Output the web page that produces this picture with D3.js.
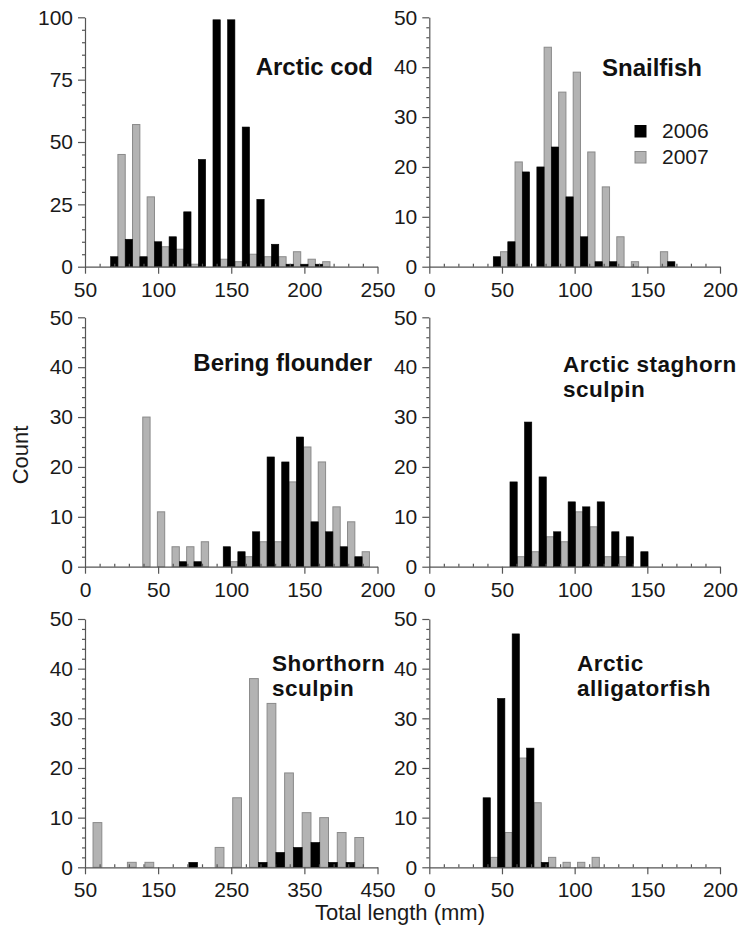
<!DOCTYPE html>
<html>
<head>
<meta charset="utf-8">
<script src="https://cdn.jsdelivr.net/npm/d3@7"></script>
<style>
  html, body { margin: 0; padding: 0; background: #fff; }
  svg { display: block; font-family: "Liberation Sans", Arial, Helvetica, sans-serif; }
</style>
</head>
<body>
<svg id="chart" width="752" height="938"></svg>
<script>
// ---------------- DATA ----------------
const years = ["2006", "2007"];

// Arctic cod (bin pair boundary, mm)
const codBins = [72.5, 82.5, 92.5, 102.5, 112.5, 122.5, 132.5, 142.5, 152.5, 162.5, 172.5, 182.5, 192.5, 202.5, 212.5];
const cod2006 = [4, 11, 4, 10, 12, 22, 43, 99, 99, 56, 27, 9, 1, 1, 1];
const cod2007 = [45, 57, 28, 8, 7, 1, 0, 3, 2, 5, 4, 4, 6, 3, 2];

// Snailfish
const snailBins = [49, 59, 69, 79, 89, 99, 109, 119, 129, 139, 149, 159, 169];
const snail2006 = [2, 5, 19, 20, 24, 14, 6, 1, 1, 0, 0, 0, 1];
const snail2007 = [3, 21, 0, 44, 35, 39, 23, 16, 6, 1, 0, 3, 0];

// Bering flounder
const beringBins = [39.5, 49.5, 59.5, 69.5, 79.5, 89.5, 99.5, 109.5, 119.5, 129.5, 139.5, 149.5, 159.5, 169.5, 179.5, 189.5];
const bering2006 = [0, 0, 0, 1, 1, 0, 4, 3, 7, 22, 21, 26, 9, 7, 4, 2];
const bering2007 = [30, 11, 4, 4, 5, 0, 1, 2, 5, 5, 17, 24, 21, 12, 9, 3];

// Arctic staghorn sculpin
const staghornBins = [60.5, 70.5, 80.5, 90.5, 100.5, 110.5, 120.5, 130.5, 140.5, 150.5];
const staghorn2006 = [17, 29, 18, 7, 13, 12, 13, 7, 6, 3];
const staghorn2007 = [2, 3, 6, 5, 11, 8, 2, 2, 0, 0];

// Shorthorn sculpin
const shorthornBins = [61, 84, 108, 132, 156, 180, 204, 228, 252, 275, 299, 323, 347, 371, 395, 419];
const shorthorn2006 = [0, 0, 0, 0, 0, 0, 1, 0, 0, 0, 1, 3, 4, 5, 1, 1];
const shorthorn2007 = [9, 0, 1, 1, 0, 0, 0, 4, 14, 38, 33, 19, 11, 10, 7, 6];

// Arctic alligatorfish
const alligatorBins = [42, 52, 62, 72, 82, 92, 102, 112];
const alligator2006 = [14, 34, 47, 24, 1, 0, 0, 0];
const alligator2007 = [2, 7, 22, 13, 2, 1, 1, 2];

// Tick labels
const xTicks50to250 = [50, 100, 150, 200, 250];
const xTicks0to200 = [0, 50, 100, 150, 200];
const xTicks50to450 = [50, 150, 250, 350, 450];
const yTicks100 = [0, 25, 50, 75, 100];
const yTicks50 = [0, 10, 20, 30, 40, 50];

const titles = [["Arctic cod"], ["Snailfish"], ["Bering flounder"], ["Arctic staghorn", "sculpin"], ["Shorthorn", "sculpin"], ["Arctic", "alligatorfish"]];
const xAxisTitle = "Total length (mm)";
const yAxisTitle = "Count";

// ---------------- LAYOUT ----------------
const svg = d3.select("#chart");
const cols = [{ x0: 85, x1: 377.5 }, { x0: 429.3, x1: 720 }];
const rows = [{ top: 17.3, bottom: 266.7 }, { top: 317.3, bottom: 566.7 }, { top: 619, bottom: 867.3 }];

const panels = [
  { bins: codBins, a: cod2006, b: cod2007, xd: [50, 250], xt: xTicks50to250, xm: 10, yMax: 100, yt: yTicks100, ym: 5, w: 5,
    col: 0, row: 0, title: titles[0], tAnchor: "end", tx: 373, ty: 75 },
  { bins: snailBins, a: snail2006, b: snail2007, xd: [0, 200], xt: xTicks0to200, xm: 10, yMax: 50, yt: yTicks50, ym: 2, w: 5,
    col: 1, row: 0, title: titles[1], tAnchor: "end", tx: 702, ty: 76, legend: true },
  { bins: beringBins, a: bering2006, b: bering2007, xd: [0, 200], xt: xTicks0to200, xm: 10, yMax: 50, yt: yTicks50, ym: 2, w: 5,
    col: 0, row: 1, title: titles[2], tAnchor: "end", tx: 372, ty: 371 },
  { bins: staghornBins, a: staghorn2006, b: staghorn2007, xd: [0, 200], xt: xTicks0to200, xm: 10, yMax: 50, yt: yTicks50, ym: 2, w: 5,
    col: 1, row: 1, title: titles[3], tAnchor: "start", tx: 563, ty: 372 },
  { bins: shorthornBins, a: shorthorn2006, b: shorthorn2007, xd: [50, 450], xt: xTicks50to450, xm: 20, yMax: 50, yt: yTicks50, ym: 2, w: 12,
    col: 0, row: 2, title: titles[4], tAnchor: "start", tx: 272, ty: 671 },
  { bins: alligatorBins, a: alligator2006, b: alligator2007, xd: [0, 200], xt: xTicks0to200, xm: 10, yMax: 50, yt: yTicks50, ym: 2, w: 5,
    col: 1, row: 2, title: titles[5], tAnchor: "start", tx: 577, ty: 671 }
];

const axisColor = "#555";
const textColor = "#1a1a1a";
const greyFill = "#b3b3b3";
const greyStroke = "#8a8a8a";

panels.forEach(p => {
  const c = cols[p.col], r = rows[p.row];
  const x = d3.scaleLinear().domain(p.xd).range([c.x0, c.x1]);
  const y = d3.scaleLinear().domain([0, p.yMax]).range([r.bottom, r.top]);
  const g = svg.append("g");

  // bars: 2007 (grey) right of boundary, 2006 (black) left
  const rowsData = p.bins.map((bin, i) => ({ bin, a: p.a[i], b: p.b[i] }));
  g.selectAll("rect.g07").data(rowsData.filter(d => d.b > 0)).join("rect")
    .attr("x", d => x(d.bin))
    .attr("width", d => x(d.bin + p.w) - x(d.bin))
    .attr("y", d => y(d.b))
    .attr("height", d => y(0) - y(d.b))
    .attr("fill", greyFill).attr("stroke", greyStroke).attr("stroke-width", 1);
  g.selectAll("rect.g06").data(rowsData.filter(d => d.a > 0)).join("rect")
    .attr("x", d => x(d.bin - p.w))
    .attr("width", d => x(d.bin) - x(d.bin - p.w))
    .attr("y", d => y(d.a))
    .attr("height", d => y(0) - y(d.a))
    .attr("fill", "#000").attr("stroke", "#000").attr("stroke-width", 0.6);

  // minor ticks
  const xMinor = d3.range(p.xd[0], p.xd[1] + 0.001, p.xm).filter(v => !p.xt.includes(v));
  const yMinor = d3.range(0, p.yMax + 0.001, p.ym).filter(v => !p.yt.includes(v));

  g.append("g").attr("transform", `translate(0,${r.bottom})`)
    .call(d3.axisBottom(x).tickValues(p.xt).tickSizeInner(7).tickSizeOuter(0).tickPadding(8).tickFormat(d3.format("d")));
  g.append("g").attr("transform", `translate(0,${r.bottom})`)
    .call(d3.axisBottom(x).tickValues(xMinor).tickSizeInner(-3).tickSizeOuter(0).tickFormat(""))
    .call(s => s.select(".domain").remove())
    .call(s => s.selectAll(".tick text").remove());
  g.append("g").attr("transform", `translate(${c.x0},0)`)
    .call(d3.axisLeft(y).tickValues(p.yt).tickSizeInner(7).tickSizeOuter(0).tickPadding(5).tickFormat(d3.format("d")));
  g.append("g").attr("transform", `translate(${c.x0},0)`)
    .call(d3.axisLeft(y).tickValues(yMinor).tickSizeInner(3).tickSizeOuter(0).tickFormat(""))
    .call(s => s.select(".domain").remove())
    .call(s => s.selectAll(".tick text").remove());

  g.selectAll(".domain, .tick line").attr("stroke", axisColor).attr("stroke-width", 1.2);
  g.selectAll(".tick text").attr("font-size", 21).attr("fill", textColor)
    .attr("font-family", '"Liberation Sans", Arial, sans-serif');

  // title (one text element per line; multi-line titles slightly tighter so lines don't collide)
  const multi = p.title.length > 1;
  const fs = multi ? 22.5 : 24;
  p.title.forEach((line, i) => {
    g.append("text").attr("x", p.tx).attr("y", p.ty + i * 25.4)
      .attr("text-anchor", p.tAnchor).attr("font-size", fs).attr("font-weight", "bold")
      .attr("letter-spacing", multi ? 0.5 : 0).attr("fill", "#111")
      .text(line);
  });

  // legend
  if (p.legend) {
    const lg = g.append("g");
    const fills = ["#000", greyFill];
    const strokes = ["#000", greyStroke];
    years.forEach((yr, i) => {
      lg.append("rect").attr("x", 635).attr("y", 125.5 + i * 26).attr("width", 11).attr("height", 11.5)
        .attr("fill", fills[i]).attr("stroke", strokes[i]).attr("stroke-width", 1);
      lg.append("text").attr("x", 662).attr("y", 137.5 + i * 26).attr("font-size", 21).attr("fill", textColor).text(yr);
    });
  }
});

// axis titles
svg.append("text").attr("x", 400).attr("y", 920).attr("text-anchor", "middle")
  .attr("font-size", 22).attr("fill", textColor).text(xAxisTitle);
svg.append("text").attr("transform", "translate(28,455) rotate(-90)").attr("text-anchor", "middle")
  .attr("font-size", 22).attr("fill", textColor).text(yAxisTitle);
</script>
</body>
</html>
